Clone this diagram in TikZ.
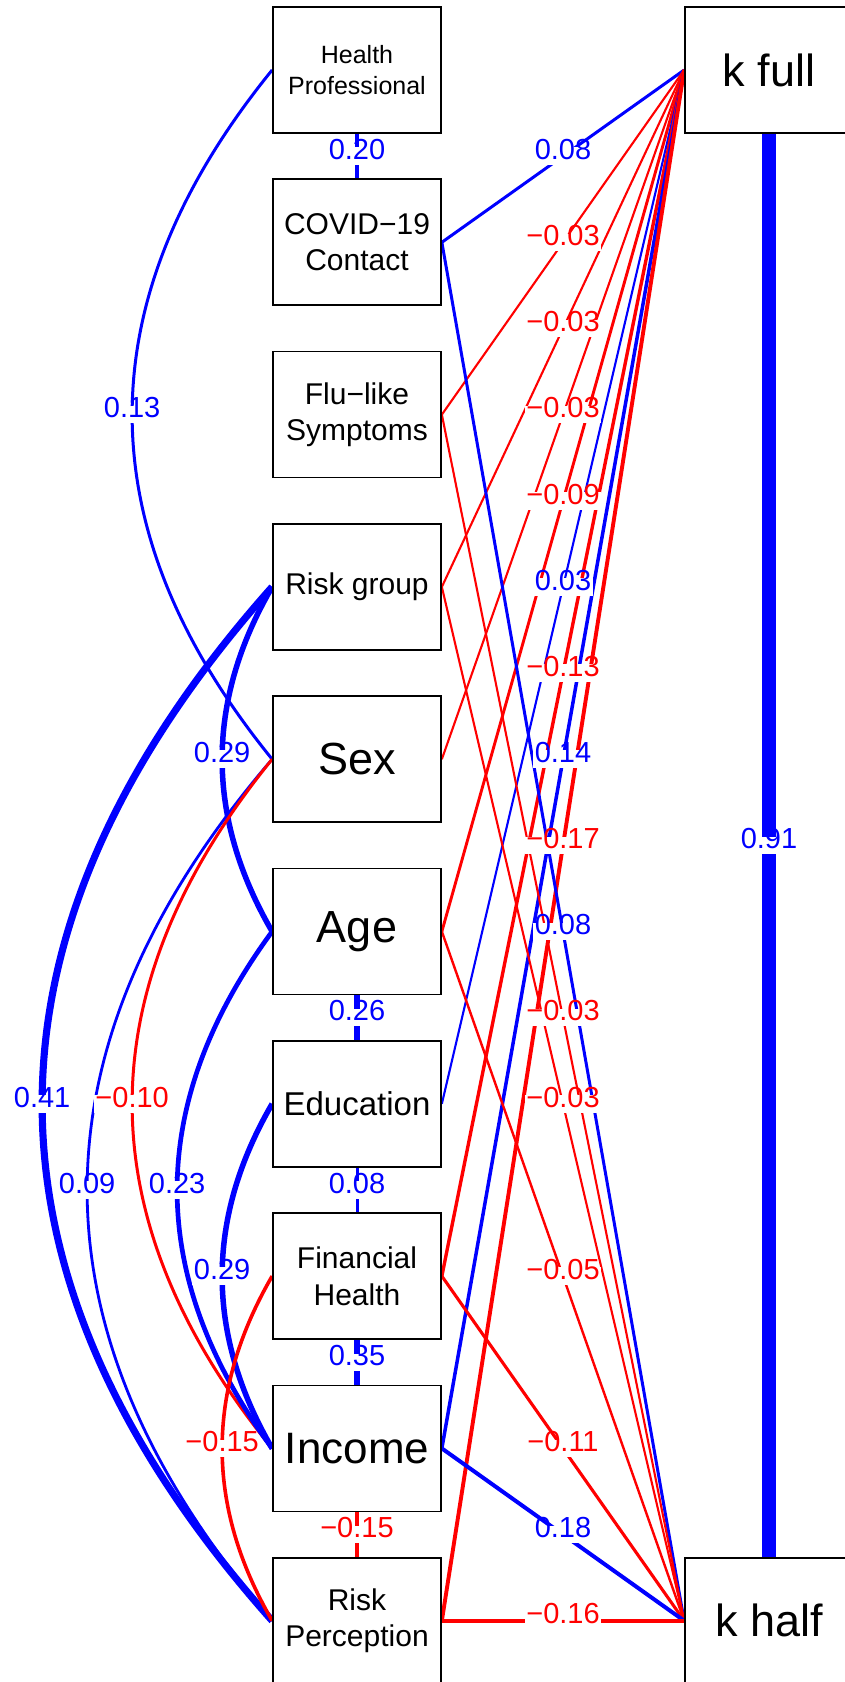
\documentclass[tikz,border=0pt]{standalone}
\usepackage{fontspec}
\setmainfont{Liberation Sans}
\usetikzlibrary{calc}
\pgfdeclarelayer{edgelayer}
\pgfsetlayers{edgelayer,main}
\definecolor{pblue}{RGB}{0,0,255}
\definecolor{pred}{RGB}{255,0,0}
\begin{document}
\begin{tikzpicture}[x=1pt,y=-1pt,
  box/.style={draw=black,line width=1.7pt,fill=white,minimum width=168pt,minimum height=126pt,inner sep=0pt,align=center},
  lbl/.style={fill=white,inner xsep=1.5pt,inner ysep=3pt,text height=0.9em,text depth=0.25em,font=\fontsize{29}{34}\selectfont},
  tb/.style={text=pblue},
  tr/.style={text=pred},
  bl/.style={draw=pblue},
  rd/.style={draw=pred},
  lw/.style={line width=#1pt}
]
\useasboundingbox (0,0) rectangle (845,1682);
% boxes
\node[box,font=\fontsize{25}{31}\selectfont] (hp) at (357,70) {Health\\Professional};
\node[box,font=\fontsize{30}{36.5}\selectfont] (cov) at (357,242.3) {COVID−19\\Contact};
\node[box,font=\fontsize{30}{36.5}\selectfont] (flu) at (357,414.6) {Flu−like\\Symptoms};
\node[box,font=\fontsize{30}{36.5}\selectfont] (rg) at (357,586.9) {Risk group};
\node[box,font=\fontsize{45}{54}\selectfont] (sex) at (357,759.2) {Sex};
\node[box,font=\fontsize{45}{54}\selectfont] (age) at (357,931.5) {Age};
\node[box,font=\fontsize{33}{40}\selectfont] (edu) at (357,1103.8) {Education};
\node[box,font=\fontsize{30}{36.5}\selectfont] (fin) at (357,1276.1) {Financial\\Health};
\node[box,font=\fontsize{44}{53}\selectfont] (inc) at (357,1448.4) {Income};
\node[box,font=\fontsize{30}{36.5}\selectfont] (rp) at (357,1620.7) {Risk\\Perception};
\node[box,font=\fontsize{45}{54}\selectfont] (kf) at (769,70) {k full};
\node[box,font=\fontsize{45}{54}\selectfont] (kh) at (769,1620.7) {k half};

\begin{pgfonlayer}{edgelayer}
% paths to k full
\draw[bl,lw=3.0] (cov.east) -- (kf.west);
\draw[rd,lw=2.1] (flu.east) -- (kf.west);
\draw[rd,lw=2.1] (rg.east) -- (kf.west);
\draw[rd,lw=2.1] (sex.east) -- (kf.west);
\draw[rd,lw=2.9] (age.east) -- (kf.west);
\draw[bl,lw=2.1] (edu.east) -- (kf.west);
\draw[rd,lw=3.4] (fin.east) -- (kf.west);
\draw[bl,lw=3.5] (inc.east) -- (kf.west);
\draw[rd,lw=3.9] (rp.east) -- (kf.west);
% paths to k half
\draw[bl,lw=3.0] (cov.east) -- (kh.west);
\draw[rd,lw=2.1] (flu.east) -- (kh.west);
\draw[rd,lw=2.1] (rg.east) -- (kh.west);
\draw[rd,lw=2.4] (age.east) -- (kh.west);
\draw[rd,lw=3.1] (fin.east) -- (kh.west);
\draw[bl,lw=4.0] (inc.east) -- (kh.west);
\draw[rd,lw=3.8] (rp.east) -- (kh.west);
% vertical covariances
\draw[bl,lw=4.3] (hp.south) -- (cov.north);
\draw[bl,lw=5.1] (age.south) -- (edu.north);
\draw[bl,lw=3.0] (edu.south) -- (fin.north);
\draw[bl,lw=6.3] (fin.south) -- (inc.north);
\draw[rd,lw=3.6] (inc.south) -- (rp.north);
\draw[bl,lw=14] (kf.south) -- (kh.north);
% curved covariances
\draw[bl,lw=3.0] (hp.west) .. controls ($(hp.west)+(-186.7,229.7)$) and ($(sex.west)+(-186.7,-229.7)$) .. (sex.west);
\draw[bl,lw=5.5] (rg.west) .. controls ($(rg.west)+(-66.7,114.9)$) and ($(age.west)+(-66.7,-114.9)$) .. (age.west);
\draw[bl,lw=7.1] (rg.west) .. controls ($(rg.west)+(-306.7,344.6)$) and ($(rp.west)+(-306.7,-344.6)$) .. (rp.west);
\draw[bl,lw=2.8] (sex.west) .. controls ($(sex.west)+(-246.7,287.2)$) and ($(rp.west)+(-246.7,-287.2)$) .. (rp.west);
\draw[rd,lw=3.0] (sex.west) .. controls ($(sex.west)+(-186.7,229.7)$) and ($(inc.west)+(-186.7,-229.7)$) .. (inc.west);
\draw[bl,lw=4.7] (age.west) .. controls ($(age.west)+(-126.7,172.3)$) and ($(inc.west)+(-126.7,-172.3)$) .. (inc.west);
\draw[bl,lw=5.5] (edu.west) .. controls ($(edu.west)+(-66.7,114.9)$) and ($(inc.west)+(-66.7,-114.9)$) .. (inc.west);
\draw[rd,lw=3.6] (fin.west) .. controls ($(fin.west)+(-66.7,114.9)$) and ($(rp.west)+(-66.7,-114.9)$) .. (rp.west);
\end{pgfonlayer}

% labels: paths to k full
\node[lbl,tb] (a1) at ($(cov.east)!0.5!(kf.west)$) {0.08};
\node[lbl,tr] (a2) at ($(flu.east)!0.5!(kf.west)$) {−0.03};
\node[lbl,tr] (a3) at ($(rg.east)!0.5!(kf.west)$) {−0.03};
\node[lbl,tr] (a4) at ($(sex.east)!0.5!(kf.west)$) {−0.03};
\node[lbl,tr] (a5) at ($(age.east)!0.5!(kf.west)$) {−0.09};
\node[lbl,tb] (a6) at ($(edu.east)!0.5!(kf.west)$) {0.03};
\node[lbl,tr] (a7) at ($(fin.east)!0.5!(kf.west)$) {−0.13};
\node[lbl,tb] (a8) at ($(inc.east)!0.5!(kf.west)$) {0.14};
\node[lbl,tr] (a9) at ($(rp.east)!0.5!(kf.west)$) {−0.17};
% labels: paths to k half
\node[lbl,tb] (b1) at ($(cov.east)!0.5!(kh.west)$) {0.08};
\node[lbl,tr] (b2) at ($(flu.east)!0.5!(kh.west)$) {−0.03};
\node[lbl,tr] (b3) at ($(rg.east)!0.5!(kh.west)$) {−0.03};
\node[lbl,tr] (b4) at ($(age.east)!0.5!(kh.west)$) {−0.05};
\node[lbl,tr] (b5) at ($(fin.east)!0.5!(kh.west)$) {−0.11};
\node[lbl,tb] (b6) at ($(inc.east)!0.5!(kh.west)$) {0.18};
\node[lbl,tr] (b7) at ($(rp.east)!0.5!(kh.west)$) {−0.16};
% labels: vertical
\node[lbl,tb] (c1) at ($(hp.south)!0.5!(cov.north)$) {0.20};
\node[lbl,tb] (c2) at ($(age.south)!0.5!(edu.north)$) {0.26};
\node[lbl,tb] (c3) at ($(edu.south)!0.5!(fin.north)$) {0.08};
\node[lbl,tb] (c4) at ($(fin.south)!0.5!(inc.north)$) {0.35};
\node[lbl,tr] (c5) at ($(inc.south)!0.5!(rp.north)$) {−0.15};
\node[lbl,tb] (c6) at ($(kf.south)!0.5!(kh.north)$) {0.91};
% labels: curves
\node[lbl,tb] (d1) at ($(hp.west)!0.5!(sex.west)+(-140,0)$) {0.13};
\node[lbl,tb] (d2) at ($(rg.west)!0.5!(age.west)+(-50,0)$) {0.29};
\node[lbl,tb] (d3) at ($(rg.west)!0.5!(rp.west)+(-230,0)$) {0.41};
\node[lbl,tb] (d4) at ($(sex.west)!0.5!(rp.west)+(-185,0)$) {0.09};
\node[lbl,tr] (d5) at ($(sex.west)!0.5!(inc.west)+(-140,0)$) {−0.10};
\node[lbl,tb] (d6) at ($(age.west)!0.5!(inc.west)+(-95,0)$) {0.23};
\node[lbl,tb] (d7) at ($(edu.west)!0.5!(inc.west)+(-50,0)$) {0.29};
\node[lbl,tr] (d8) at ($(fin.west)!0.5!(rp.west)+(-50,0)$) {−0.15};
\end{tikzpicture}
\end{document}
